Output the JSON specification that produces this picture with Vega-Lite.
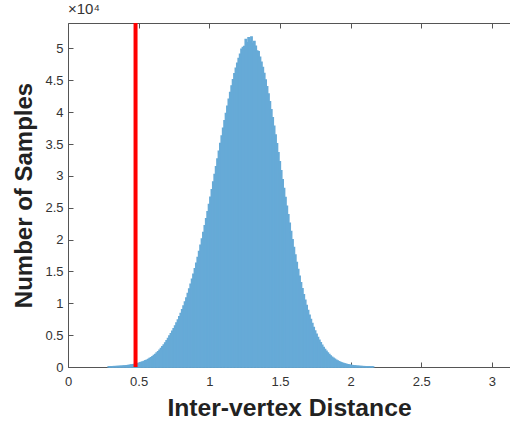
{
  "$schema": "https://vega.github.io/schema/vega-lite/v6.json",
  "width": 442,
  "height": 344,
  "autosize": {"type": "none"},
  "padding": {"left": 68, "top": 23, "right": 0, "bottom": 56},
  "background": "white",
  "title": {"text": "×10⁴", "anchor": "start", "frame": "group", "fontSize": 15, "font": "Liberation Sans", "fontWeight": "normal", "color": "#333333", "offset": 4},
  "config": {
    "view": {"stroke": null},
    "axis": {
      "domainColor": "#555555",
      "tickColor": "#555555",
      "labelColor": "#333333",
      "labelFont": "Liberation Sans",
      "labelFontSize": 13,
      "titleFont": "Liberation Sans",
      "titleFontSize": 24,
      "titleFontWeight": "bold",
      "titleColor": "#222222",
      "grid": false,
      "tickSize": -5
    }
  },
  "datasets": {
    "hist": [
      {"dist": 0.28, "count": 36}, {"dist": 0.29, "count": 42}, {"dist": 0.30, "count": 48}, {"dist": 0.31, "count": 56},
      {"dist": 0.32, "count": 64}, {"dist": 0.33, "count": 74}, {"dist": 0.34, "count": 85}, {"dist": 0.35, "count": 97},
      {"dist": 0.36, "count": 111}, {"dist": 0.37, "count": 127}, {"dist": 0.38, "count": 144}, {"dist": 0.39, "count": 164},
      {"dist": 0.40, "count": 187}, {"dist": 0.41, "count": 212}, {"dist": 0.42, "count": 241}, {"dist": 0.43, "count": 272},
      {"dist": 0.44, "count": 308}, {"dist": 0.45, "count": 348}, {"dist": 0.46, "count": 392}, {"dist": 0.47, "count": 441},
      {"dist": 0.48, "count": 496}, {"dist": 0.49, "count": 557}, {"dist": 0.50, "count": 624}, {"dist": 0.51, "count": 699},
      {"dist": 0.52, "count": 781}, {"dist": 0.53, "count": 871}, {"dist": 0.54, "count": 971}, {"dist": 0.55, "count": 1080},
      {"dist": 0.56, "count": 1200}, {"dist": 0.57, "count": 1332}, {"dist": 0.58, "count": 1475}, {"dist": 0.59, "count": 1632},
      {"dist": 0.60, "count": 1803}, {"dist": 0.61, "count": 1989}, {"dist": 0.62, "count": 2190}, {"dist": 0.63, "count": 2409},
      {"dist": 0.64, "count": 2645}, {"dist": 0.65, "count": 2901}, {"dist": 0.66, "count": 3176}, {"dist": 0.67, "count": 3473},
      {"dist": 0.68, "count": 3792}, {"dist": 0.69, "count": 4135}, {"dist": 0.70, "count": 4501}, {"dist": 0.71, "count": 4886},
      {"dist": 0.72, "count": 5244}, {"dist": 0.73, "count": 5624}, {"dist": 0.74, "count": 6028}, {"dist": 0.75, "count": 6455},
      {"dist": 0.76, "count": 6907}, {"dist": 0.77, "count": 7385}, {"dist": 0.78, "count": 7890}, {"dist": 0.79, "count": 8423},
      {"dist": 0.80, "count": 8984}, {"dist": 0.81, "count": 9574}, {"dist": 0.82, "count": 10194}, {"dist": 0.83, "count": 10845},
      {"dist": 0.84, "count": 11527}, {"dist": 0.85, "count": 12240}, {"dist": 0.86, "count": 12986}, {"dist": 0.87, "count": 13764},
      {"dist": 0.88, "count": 14574}, {"dist": 0.89, "count": 15417}, {"dist": 0.90, "count": 16292}, {"dist": 0.91, "count": 17199},
      {"dist": 0.92, "count": 18139}, {"dist": 0.93, "count": 19109}, {"dist": 0.94, "count": 20109}, {"dist": 0.95, "count": 21139},
      {"dist": 0.96, "count": 22197}, {"dist": 0.97, "count": 23281}, {"dist": 0.98, "count": 24390}, {"dist": 0.99, "count": 25521},
      {"dist": 1.00, "count": 26673}, {"dist": 1.01, "count": 27844}, {"dist": 1.02, "count": 29029}, {"dist": 1.03, "count": 30228},
      {"dist": 1.04, "count": 31435}, {"dist": 1.05, "count": 32648}, {"dist": 1.06, "count": 33862}, {"dist": 1.07, "count": 35074},
      {"dist": 1.08, "count": 36280}, {"dist": 1.09, "count": 37474}, {"dist": 1.10, "count": 38653}, {"dist": 1.11, "count": 39811},
      {"dist": 1.12, "count": 40943}, {"dist": 1.13, "count": 42045}, {"dist": 1.14, "count": 43110}, {"dist": 1.15, "count": 44133},
      {"dist": 1.16, "count": 45109}, {"dist": 1.17, "count": 46033}, {"dist": 1.18, "count": 46899}, {"dist": 1.19, "count": 47701},
      {"dist": 1.20, "count": 48435}, {"dist": 1.21, "count": 49095}, {"dist": 1.22, "count": 49900}, {"dist": 1.23, "count": 50177},
      {"dist": 1.24, "count": 50300}, {"dist": 1.25, "count": 51400}, {"dist": 1.26, "count": 50900}, {"dist": 1.27, "count": 51700},
      {"dist": 1.28, "count": 51100}, {"dist": 1.29, "count": 51800}, {"dist": 1.30, "count": 50800}, {"dist": 1.31, "count": 51100},
      {"dist": 1.32, "count": 50374}, {"dist": 1.33, "count": 49600}, {"dist": 1.34, "count": 49500}, {"dist": 1.35, "count": 48625},
      {"dist": 1.36, "count": 47857}, {"dist": 1.37, "count": 47005}, {"dist": 1.38, "count": 46072}, {"dist": 1.39, "count": 45065},
      {"dist": 1.40, "count": 43988}, {"dist": 1.41, "count": 42849}, {"dist": 1.42, "count": 41653}, {"dist": 1.43, "count": 40407},
      {"dist": 1.44, "count": 39118}, {"dist": 1.45, "count": 37791}, {"dist": 1.46, "count": 36434}, {"dist": 1.47, "count": 35053},
      {"dist": 1.48, "count": 33655}, {"dist": 1.49, "count": 32245}, {"dist": 1.50, "count": 30831}, {"dist": 1.51, "count": 29419},
      {"dist": 1.52, "count": 28013}, {"dist": 1.53, "count": 26619}, {"dist": 1.54, "count": 25243}, {"dist": 1.55, "count": 23888},
      {"dist": 1.56, "count": 22559}, {"dist": 1.57, "count": 21260}, {"dist": 1.58, "count": 19995}, {"dist": 1.59, "count": 18766},
      {"dist": 1.60, "count": 17576}, {"dist": 1.61, "count": 16428}, {"dist": 1.62, "count": 15323}, {"dist": 1.63, "count": 14263},
      {"dist": 1.64, "count": 13249}, {"dist": 1.65, "count": 12281}, {"dist": 1.66, "count": 11361}, {"dist": 1.67, "count": 10488},
      {"dist": 1.68, "count": 9662}, {"dist": 1.69, "count": 8882}, {"dist": 1.70, "count": 8149}, {"dist": 1.71, "count": 7461},
      {"dist": 1.72, "count": 6817}, {"dist": 1.73, "count": 6216}, {"dist": 1.74, "count": 5656}, {"dist": 1.75, "count": 5136},
      {"dist": 1.76, "count": 4653}, {"dist": 1.77, "count": 4208}, {"dist": 1.78, "count": 3797}, {"dist": 1.79, "count": 3419},
      {"dist": 1.80, "count": 3073}, {"dist": 1.81, "count": 2756}, {"dist": 1.82, "count": 2466}, {"dist": 1.83, "count": 2203},
      {"dist": 1.84, "count": 1963}, {"dist": 1.85, "count": 1746}, {"dist": 1.86, "count": 1550}, {"dist": 1.87, "count": 1373},
      {"dist": 1.88, "count": 1214}, {"dist": 1.89, "count": 1071}, {"dist": 1.90, "count": 942}, {"dist": 1.91, "count": 828},
      {"dist": 1.92, "count": 726}, {"dist": 1.93, "count": 635}, {"dist": 1.94, "count": 555}, {"dist": 1.95, "count": 483},
      {"dist": 1.96, "count": 420}, {"dist": 1.97, "count": 364}, {"dist": 1.98, "count": 316}, {"dist": 1.99, "count": 273},
      {"dist": 2.00, "count": 235}, {"dist": 2.01, "count": 202}, {"dist": 2.02, "count": 174}, {"dist": 2.03, "count": 149},
      {"dist": 2.04, "count": 127}, {"dist": 2.05, "count": 109}, {"dist": 2.06, "count": 93}, {"dist": 2.07, "count": 79},
      {"dist": 2.08, "count": 67}, {"dist": 2.09, "count": 56}, {"dist": 2.10, "count": 48}, {"dist": 2.11, "count": 40},
      {"dist": 2.12, "count": 34}, {"dist": 2.13, "count": 28}, {"dist": 2.14, "count": 24}, {"dist": 2.15, "count": 20}
    ],
    "threshold": [{"dist": 0.478}]
  },
  "layer": [
    {
      "data": {"name": "hist"},
      "mark": {"type": "bar", "color": "#66AAD7", "binSpacing": 0, "stroke": "#66AAD7", "strokeWidth": 1.4},
      "encoding": {
        "x": {
          "field": "dist",
          "type": "quantitative",
          "bin": {"binned": true, "step": 0.01},
          "scale": {"domain": [0, 3.128], "nice": false, "zero": false},
          "axis": {"values": [0, 0.5, 1, 1.5, 2, 2.5, 3], "labelExpr": "'' + datum.value", "labelPadding": 13, "titlePadding": 7, "titleFontSize": 24.7, "labelFlush": false, "labelOverlap": false},
          "title": "Inter-vertex Distance"
        },
        "y": {
          "field": "count",
          "type": "quantitative",
          "scale": {"domain": [0, 54000], "nice": false},
          "axis": {"values": [0, 5000, 10000, 15000, 20000, 25000, 30000, 35000, 40000, 45000, 50000], "labelExpr": "'' + datum.value / 10000", "labelPadding": 10, "titlePadding": 8, "labelFlush": false, "labelOverlap": false},
          "title": "Number of Samples"
        }
      }
    },
    {
      "data": {"name": "threshold"},
      "mark": {"type": "rule", "color": "#FF0000", "strokeWidth": 4},
      "encoding": {
        "x": {
          "field": "dist",
          "type": "quantitative",
          "axis": {"orient": "top", "labels": false, "title": null, "values": [0, 0.5, 1, 1.5, 2, 2.5, 3]}
        }
      }
    }
  ],
  "resolve": {"axis": {"x": "independent"}}
}
